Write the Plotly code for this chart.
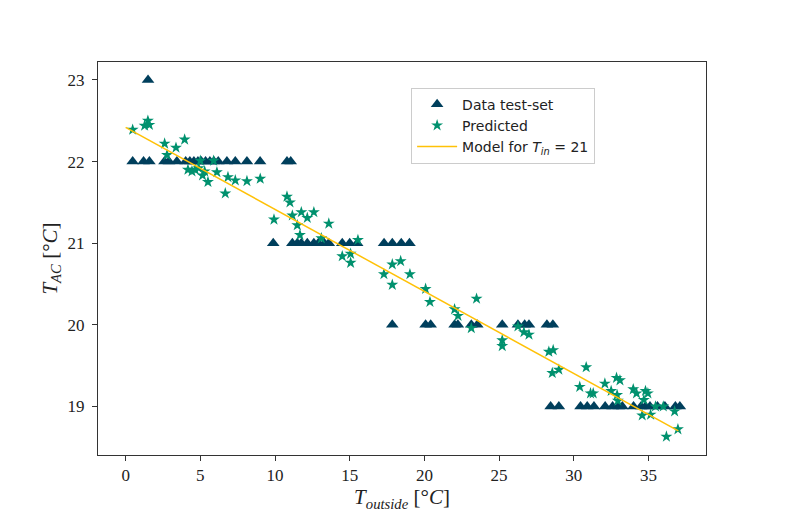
import plotly.graph_objects as go

# Data test-set (triangles)
test_x = [1.5,
          0.47, 1.2, 1.59, 2.6, 2.9, 3.43, 4.02, 4.3, 4.57, 4.84, 5.07, 5.35, 5.64, 5.91, 6.2, 6.78, 7.34, 8.12, 9.0, 10.8, 11.05,
          9.88, 11.16, 11.49, 11.76, 12.16, 12.6, 12.9, 13.3, 13.6, 14.5, 15.0, 15.5, 17.3, 17.85, 18.45, 19.0,
          17.85, 20.08, 20.42, 22.02, 22.24, 23.14, 23.54, 25.21, 26.26, 26.71, 27.0, 28.2, 28.6,
          28.45, 29.0, 30.45, 30.9, 31.35, 32.1, 32.6, 33.0, 33.25, 34.0, 34.5, 34.8, 35.1, 35.6, 36.1, 36.8, 37.1]
test_y = [23] * 1 + [22] * 21 + [21] * 16 + [20] * 13 + [19] * 17

# Predicted (stars)
pred_x = [0.47, 1.27, 1.49, 1.59, 2.61, 3.95, 3.37, 2.77, 4.17, 4.44, 4.66, 4.89, 5.0, 5.15, 5.29, 5.51,
          5.89, 6.11, 6.67, 6.85, 7.34, 8.12, 9.01, 10.8, 11.0, 9.93, 11.16, 11.76, 12.16, 12.6, 11.49,
          11.67, 13.6, 13.1, 15.55, 14.5, 15.06, 15.06, 17.85, 18.41, 17.29, 19.03, 17.85, 20.08, 20.37,
          22.02, 22.25, 23.49, 23.14, 25.21, 25.21, 26.26, 26.66, 27.0, 28.33, 28.62, 28.56, 29.0, 30.4,
          30.83, 31.12, 31.3, 32.08, 32.5, 32.86, 33.09, 32.9, 32.95, 33.98, 34.2, 34.69, 34.8, 34.96,
          34.58, 35.14, 35.47, 35.99, 36.2, 36.75, 36.97]
pred_y = [22.39, 22.44, 22.50, 22.45, 22.22, 22.27, 22.17, 22.08, 21.90, 21.88, 21.90, 21.92, 22.01, 21.83, 21.88, 21.75,
          22.01, 21.87, 21.61, 21.81, 21.77, 21.76, 21.79, 21.57, 21.50, 21.29, 21.34, 21.38, 21.31, 21.38, 21.22,
          21.10, 21.24, 21.06, 21.04, 20.84, 20.87, 20.76, 20.74, 20.78, 20.62, 20.62, 20.49, 20.44, 20.28,
          20.19, 20.11, 20.32, 19.96, 19.81, 19.74, 19.98, 19.91, 19.88, 19.67, 19.69, 19.41, 19.45, 19.24,
          19.48, 19.16, 19.16, 19.28, 19.19, 19.35, 19.32, 19.14, 19.07, 19.21, 19.16, 19.08, 19.19, 19.16,
          18.89, 18.90, 19.00, 19.00, 18.63, 18.94, 18.72]

# Model line for T_in = 21
model_x = [0, 37]
model_y = [22.42, 18.70]

x_ticks = [0, 5, 10, 15, 20, 25, 30, 35]
y_ticks = [19, 20, 21, 22, 23]

fig = go.Figure()
fig.add_trace(go.Scatter(
    x=test_x, y=test_y, mode="markers", name="Data test-set",
    marker=dict(symbol="triangle-up", size=11, color="#003f5c", line=dict(width=0)),
))
fig.add_trace(go.Scatter(
    x=pred_x, y=pred_y, mode="markers", name="Predicted",
    marker=dict(symbol="star", size=9, color="#00916e", line=dict(width=0)),
))
fig.add_trace(go.Scatter(
    x=model_x, y=model_y, mode="lines", name="Model for <i>T</i><sub><i>in</i></sub> = 21",
    line=dict(color="#ffc107", width=1.5),
))

axis_common = dict(
    showgrid=False, zeroline=False, showline=True, mirror=True,
    linecolor="#333333", linewidth=1, ticks="outside", ticklen=5, tickcolor="#333333",
    tickfont=dict(family="Liberation Serif, serif", size=17, color="#222222"),
)

fig.update_layout(
    width=786, height=521,
    margin=dict(l=90, r=88, t=54, b=74, autoexpand=False),
    paper_bgcolor="white", plot_bgcolor="white",
    showlegend=True,
    legend=dict(
        x=0.515, y=0.935, xanchor="left", yanchor="top",
        bgcolor="rgba(255,255,255,0.8)", bordercolor="#cccccc", borderwidth=1,
        font=dict(family="DejaVu Sans, sans-serif", size=14, color="#222222"),
        tracegroupgap=0, itemsizing="trace", itemwidth=40,
    ),
    xaxis=dict(
        range=[-1.85, 38.85], tickvals=x_ticks,
        title=dict(text="<i>T</i><sub><i>outside</i></sub> [°<i>C</i>]",
                   font=dict(family="Liberation Serif, serif", size=21, color="#222222"), standoff=0),
        **axis_common,
    ),
    yaxis=dict(
        range=[18.405, 23.22], tickvals=y_ticks, ticklabelstandoff=4,
        title=dict(text="<i>T</i><sub><i>AC</i></sub> [°<i>C</i>]",
                   font=dict(family="Liberation Serif, serif", size=21, color="#222222"), standoff=4),
        **axis_common,
    ),
)

fig.write_html("out.html")
